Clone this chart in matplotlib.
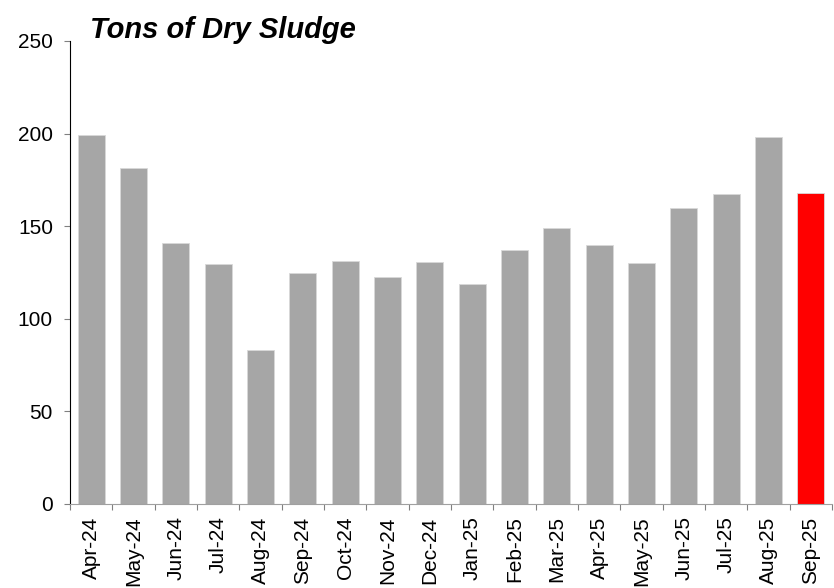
import matplotlib
matplotlib.use('Agg')
import matplotlib.pyplot as plt
import numpy as np

plt.rcParams['font.family'] = ['Liberation Sans', 'DejaVu Sans']

# months and tons of dry sludge
months = ['Apr-24', 'May-24', 'Jun-24', 'Jul-24', 'Aug-24', 'Sep-24', 'Oct-24', 'Nov-24', 'Dec-24',
          'Jan-25', 'Feb-25', 'Mar-25', 'Apr-25', 'May-25', 'Jun-25', 'Jul-25', 'Aug-25', 'Sep-25']
tons = [199.5, 181.3, 140.7, 129.7, 83.1, 124.7, 131.1, 122.3, 130.6,
        118.9, 137.4, 149.2, 140.0, 130.2, 159.7, 167.4, 198.1, 168.1]

colors = ['#a6a6a6'] * (len(months) - 1) + ['#ff0000']

fig = plt.figure(figsize=(8.34, 5.88), dpi=100)
ax = fig.add_axes([0.0839, 0.1429, 0.9137, 0.7874])

x = np.arange(len(months))
ax.bar(x, tons, width=0.64, color=colors, edgecolor='#d9d9d9', linewidth=0.6)

ax.set_xlim(-0.5, len(months) - 0.5)
ax.set_ylim(0, 250)
ax.set_yticks([0, 50, 100, 150, 200, 250])

# tick marks between bars, labels under bars
ax.set_xticks(np.arange(-0.5, len(months), 1.0))
ax.set_xticklabels([])
ax.set_xticks(x, minor=True)
ax.set_xticklabels(months, minor=True, rotation=90, fontsize=15)
ax.tick_params(axis='x', which='major', length=4, color='#808080', direction='out')
ax.tick_params(axis='x', which='minor', length=0, pad=9)
ax.tick_params(axis='y', length=4.3, color='#808080', labelsize=15, pad=8)

ax.spines['top'].set_visible(False)
ax.spines['right'].set_visible(False)
ax.spines['bottom'].set_color('#a0a0a0')
ax.spines['left'].set_color('black')

fig.text(0.108, 1 - 38 / 588, 'Tons of Dry Sludge', fontsize=21, fontweight='bold',
         fontstyle='italic', va='baseline', ha='left')

fig.savefig('out.png', dpi=100)
